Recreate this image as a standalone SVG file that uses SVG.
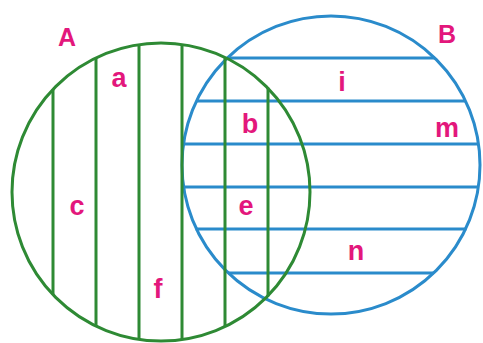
<svg xmlns="http://www.w3.org/2000/svg" width="483" height="343" viewBox="0 0 483 343">
<style>
.b{stroke:#2a8bcb;stroke-width:3;fill:none}
.g{stroke:#2e8a34;stroke-width:3;fill:none}
.t{fill:#e3177c;font-family:"Liberation Sans",Arial,sans-serif;font-weight:bold;text-anchor:middle}
.u{font-size:25px}
.l{font-size:27px}
</style>
<rect width="483" height="343" fill="#ffffff"/>
<g id="setB">
<circle class="b" cx="331" cy="165" r="149"/>
<line class="b" x1="227.3" y1="58" x2="434.7" y2="58"/>
<line class="b" x1="196.5" y1="101" x2="465.5" y2="101"/>
<line class="b" x1="183.8" y1="144" x2="478.2" y2="144"/>
<line class="b" x1="183.3" y1="187" x2="478.7" y2="187"/>
<line class="b" x1="195.5" y1="229" x2="466.5" y2="229"/>
<line class="b" x1="228.4" y1="273" x2="433.6" y2="273"/>
</g>
<g id="setA">
<circle class="g" cx="161" cy="192" r="149"/>
<line class="g" x1="53" y1="89.4" x2="53" y2="294.6"/>
<line class="g" x1="96" y1="58" x2="96" y2="326"/>
<line class="g" x1="139" y1="44.6" x2="139" y2="339.4"/>
<line class="g" x1="182" y1="44.5" x2="182" y2="339.5"/>
<line class="g" x1="225" y1="57.4" x2="225" y2="326.6"/>
<line class="g" x1="268" y1="87.7" x2="268" y2="296.3"/>
</g>
<g id="labels">
<text class="t u" x="67" y="46">A</text>
<text class="t u" x="447" y="43">B</text>
<text class="t l" x="119" y="87">a</text>
<text class="t l" x="250" y="133">b</text>
<text class="t l" x="77" y="215">c</text>
<text class="t l" x="246" y="215">e</text>
<text class="t l" x="158" y="298">f</text>
<text class="t l" x="342" y="91">i</text>
<text class="t l" x="447" y="137">m</text>
<text class="t l" x="356" y="260">n</text>
</g>
</svg>
